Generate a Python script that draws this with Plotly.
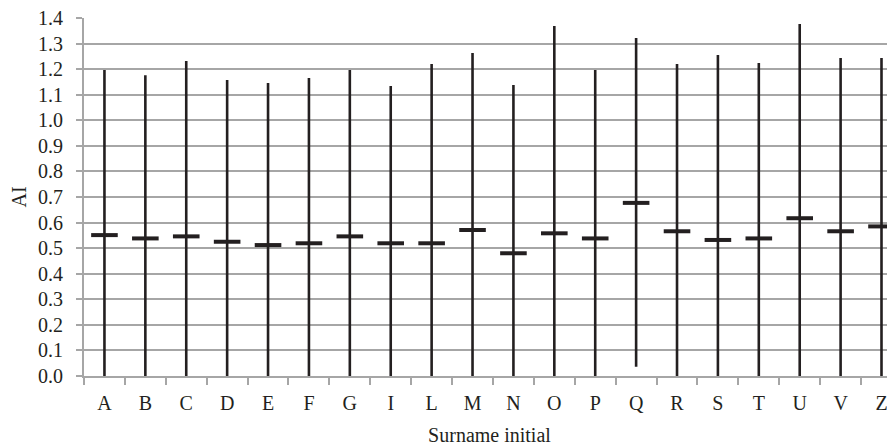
import plotly.graph_objects as go

initials = ["A", "B", "C", "D", "E", "F", "G", "I", "L", "M",
            "N", "O", "P", "Q", "R", "S", "T", "U", "V", "Z"]
ai_mean = [0.551, 0.538, 0.546, 0.525, 0.512, 0.519, 0.546, 0.519, 0.519, 0.571,
           0.480, 0.558, 0.538, 0.677, 0.566, 0.532, 0.538, 0.617, 0.566, 0.585]
ai_high = [1.197, 1.176, 1.232, 1.158, 1.146, 1.165, 1.197, 1.134, 1.220, 1.263,
           1.138, 1.369, 1.197, 1.322, 1.220, 1.255, 1.224, 1.377, 1.244, 1.244]
ai_low = [0.0, 0.0, 0.0, 0.0, 0.0, 0.0, 0.0, 0.0, 0.0, 0.0,
          0.0, 0.0, 0.0, 0.036, 0.0, 0.0, 0.0, 0.0, 0.0, 0.0]
y_tickvals = [i / 10 for i in range(15)]
y_ticktext = ["%.1f" % v for v in y_tickvals]

ink = "#231f20"
grid = "#a6a6a6"
font = "Liberation Serif"

fig = go.Figure()
fig.add_trace(go.Scatter(
    x=initials, y=ai_mean, mode="markers",
    marker=dict(symbol="line-ew", size=19, color=ink,
                line=dict(width=4, color=ink)),
    error_y=dict(type="data", symmetric=False,
                 array=[h - m for h, m in zip(ai_high, ai_mean)],
                 arrayminus=[m - l for m, l in zip(ai_mean, ai_low)],
                 width=0, thickness=2.6, color=ink),
    showlegend=False, cliponaxis=True,
))

fig.update_layout(
    width=887, height=438,
    margin=dict(l=76, r=0, t=10, b=70, autoexpand=False),
    paper_bgcolor="white", plot_bgcolor="white",
    font=dict(family=font, size=20, color=ink),
    xaxis=dict(
        type="category", categoryorder="array", categoryarray=initials,
        range=[-0.5, 19.33], automargin=False,
        showgrid=False, showline=True, linecolor=grid, linewidth=2,
        ticks="outside", tickson="boundaries", ticklen=7, tickcolor=grid, tickwidth=1.5,
        ticklabelstandoff=8,
        title=dict(text="Surname initial", font=dict(family=font, size=20), standoff=24),
        tickfont=dict(family=font, size=20),
    ),
    yaxis=dict(
        range=[0, 1.4], tickmode="array", tickvals=y_tickvals, ticktext=y_ticktext,
        automargin=False, ticklabeloverflow="allow",
        showgrid=True, gridcolor=grid, gridwidth=2,
        showline=True, linecolor=grid, linewidth=2, zeroline=False,
        ticks="outside", ticklen=6, tickcolor=grid, tickwidth=2,
        ticklabelstandoff=9,
        title=dict(text="AI", font=dict(family=font, size=20), standoff=10),
        tickfont=dict(family=font, size=20),
    ),
)

fig.write_html("out.html")
